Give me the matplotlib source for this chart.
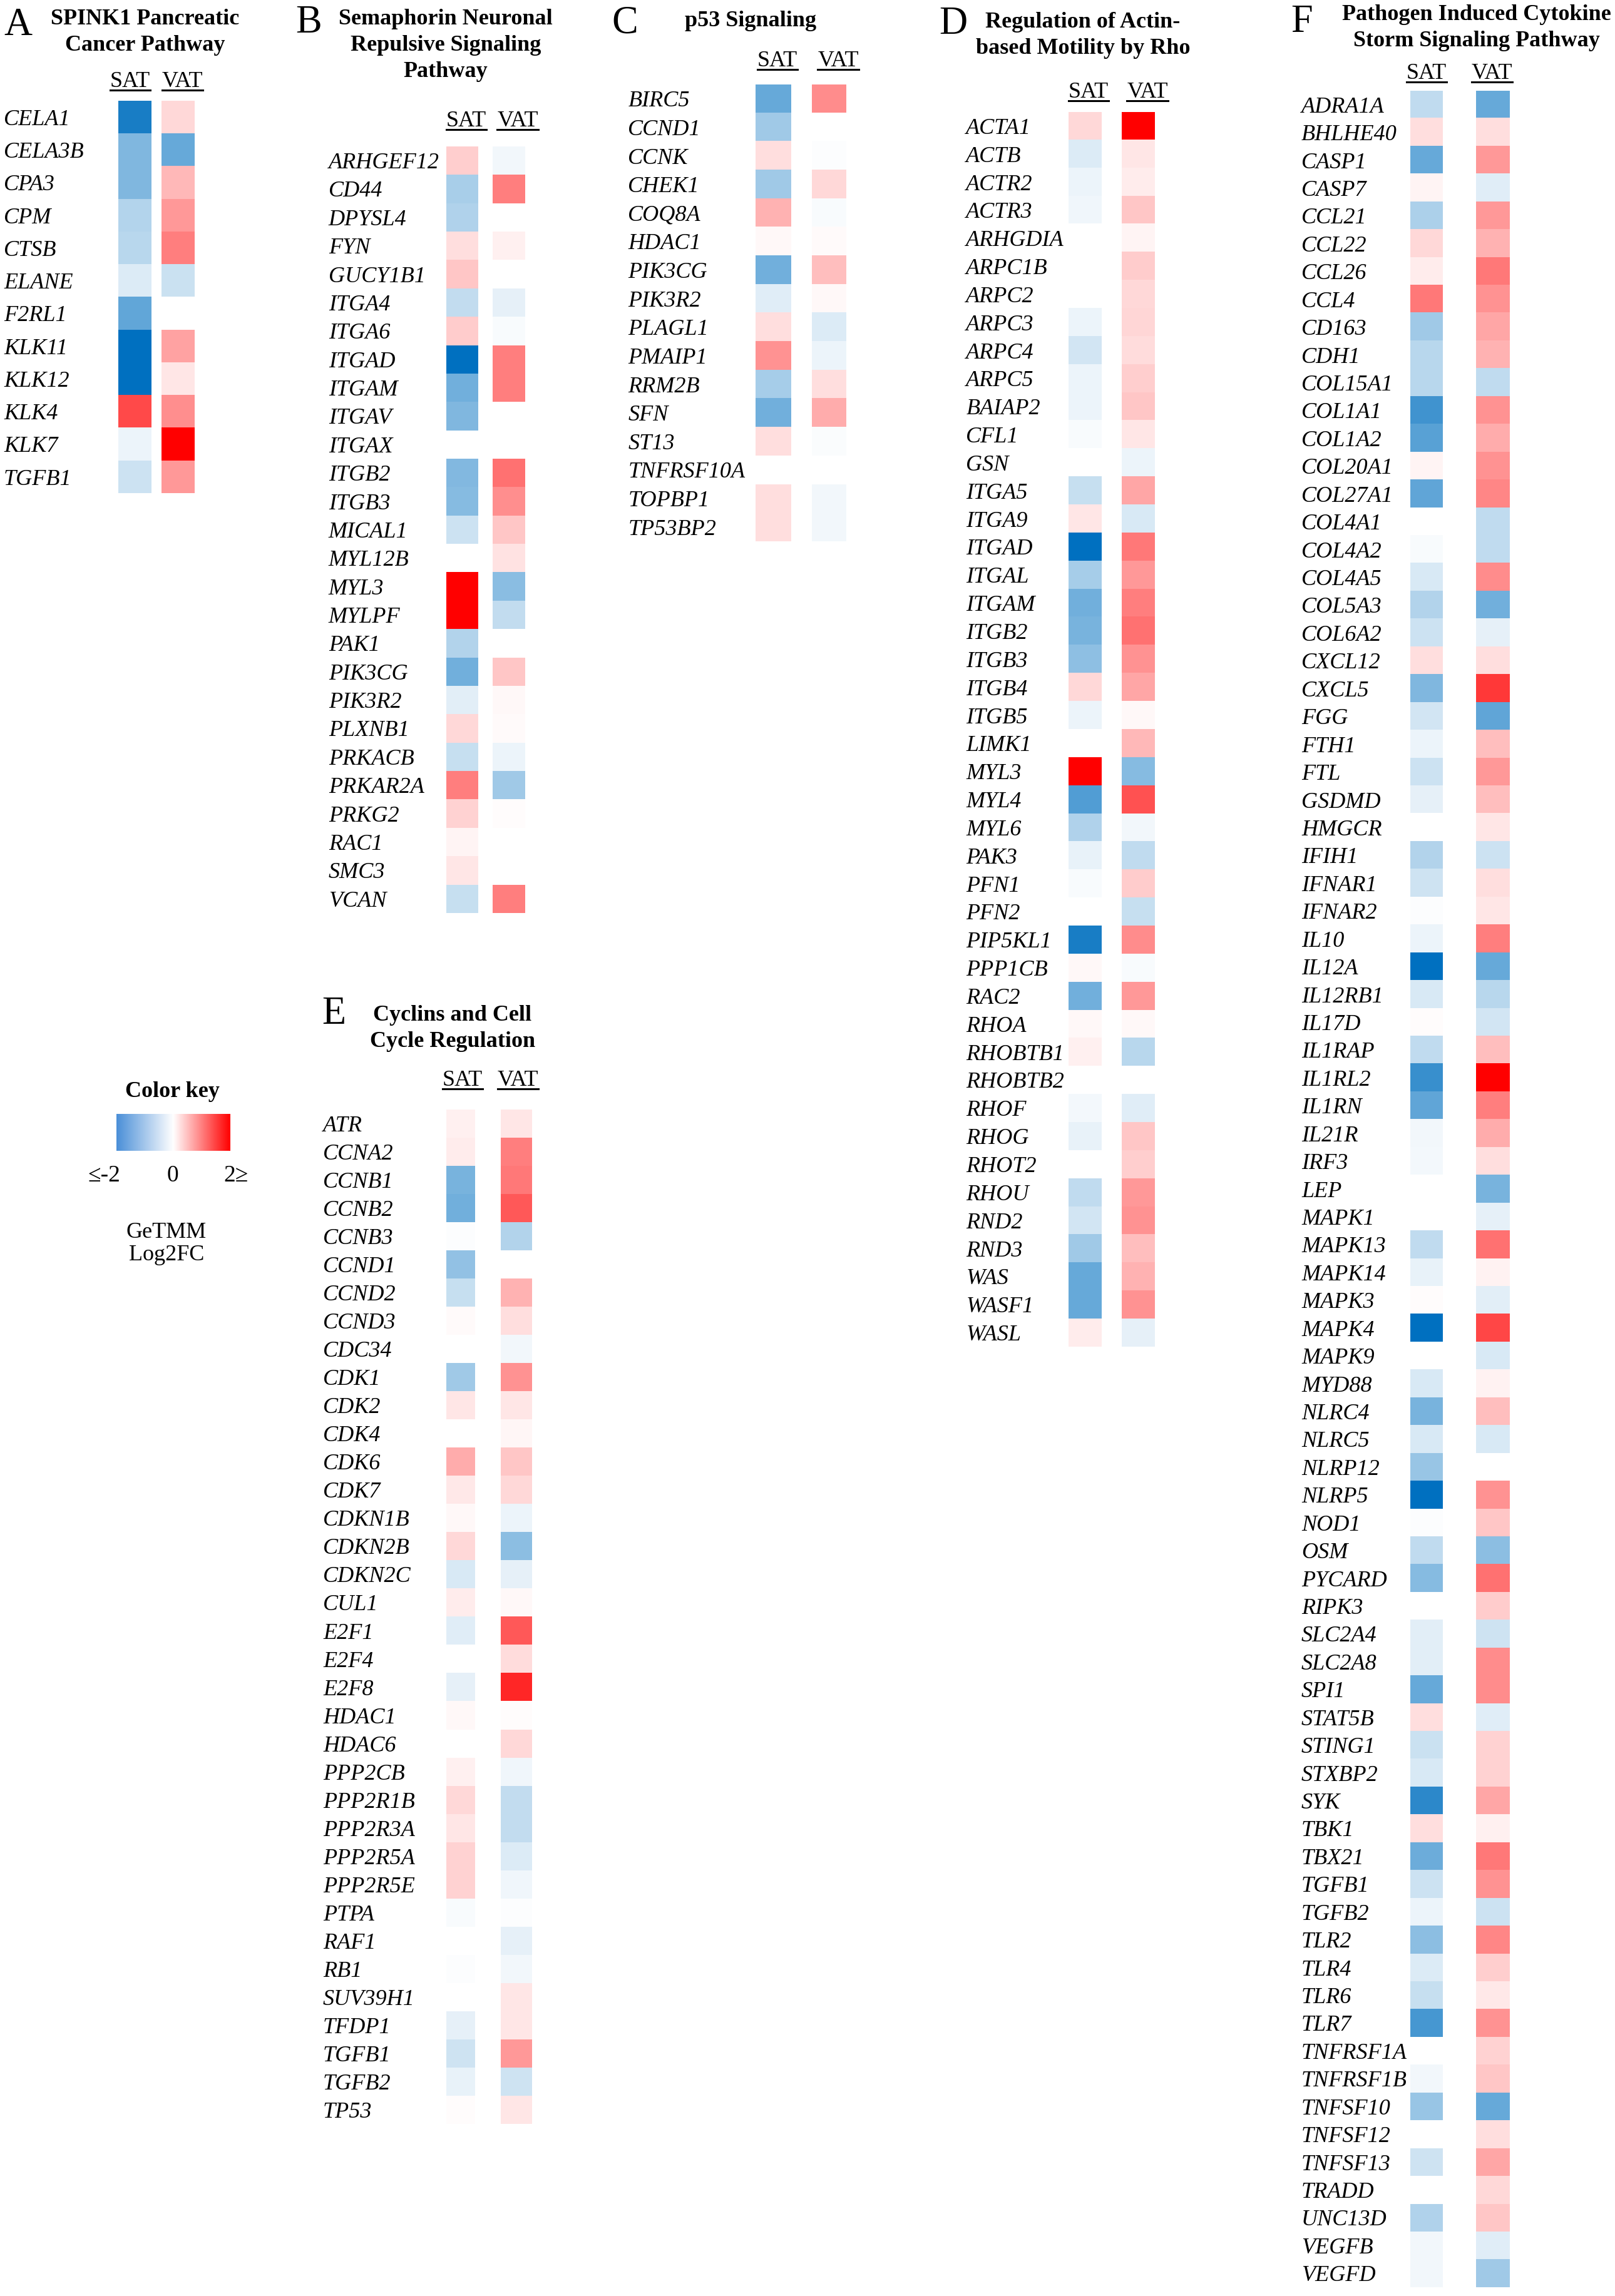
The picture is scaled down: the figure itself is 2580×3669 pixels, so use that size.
import numpy as np
import matplotlib
matplotlib.use('Agg')
import matplotlib.pyplot as plt
from matplotlib.colors import LinearSegmentedColormap
from matplotlib.lines import Line2D

nan = np.nan

# ---------------- data ----------------
a_title = "SPINK1 Pancreatic\nCancer Pathway"
a_genes = ["CELA1", "CELA3B", "CPA3", "CPM", "CTSB", "ELANE", "F2RL1", "KLK11", "KLK12", "KLK4", "KLK7", "TGFB1"]
a_sat = [-1.8, -1.0, -1.0, -0.58, -0.55, -0.28, -1.22, -2.0, -2.0, 1.42, -0.15, -0.4]
a_vat = [0.3, -1.2, 0.55, 0.8, 1.0, -0.42, nan, 0.73, 0.2, 0.88, 2.0, 0.8]

b_title = "Semaphorin Neuronal\nRepulsive Signaling\nPathway"
b_genes = ["ARHGEF12", "CD44", "DPYSL4", "FYN", "GUCY1B1", "ITGA4", "ITGA6", "ITGAD", "ITGAM", "ITGAV",
           "ITGAX", "ITGB2", "ITGB3", "MICAL1", "MYL12B", "MYL3", "MYLPF", "PAK1", "PIK3CG", "PIK3R2",
           "PLXNB1", "PRKACB", "PRKAR2A", "PRKG2", "RAC1", "SMC3", "VCAN"]
b_sat = [0.38, -0.68, -0.62, 0.25, 0.45, -0.48, 0.4, -2.0, -1.1, -1.0,
         nan, -0.98, -0.95, -0.4, nan, 2.0, 2.0, -0.6, -1.1, -0.22,
         0.3, -0.45, 1.0, 0.35, 0.08, 0.2, -0.45]
b_vat = [-0.1, 1.0, nan, 0.12, nan, -0.2, -0.05, 1.0, 1.0, nan,
         nan, 1.1, 0.88, 0.45, 0.22, -0.92, -0.48, nan, 0.45, 0.05,
         0.04, -0.15, -0.75, 0.03, nan, nan, 1.0]

c_title = "p53 Signaling"
c_genes = ["BIRC5", "CCND1", "CCNK", "CHEK1", "COQ8A", "HDAC1", "PIK3CG", "PIK3R2", "PLAGL1", "PMAIP1",
           "RRM2B", "SFN", "ST13", "TNFRSF10A", "TOPBP1", "TP53BP2"]
c_sat = [-1.2, -0.75, 0.25, -0.75, 0.6, 0.05, -1.1, -0.25, 0.25, 0.85, -0.7, -1.1, 0.25, nan, 0.25, 0.25]
c_vat = [0.9, nan, -0.03, 0.3, -0.05, 0.04, 0.5, 0.05, -0.28, -0.15, 0.25, 0.65, -0.04, nan, -0.1, -0.1]

d_title = "Regulation of Actin-\nbased Motility by Rho"
d_genes = ["ACTA1", "ACTB", "ACTR2", "ACTR3", "ARHGDIA", "ARPC1B", "ARPC2", "ARPC3", "ARPC4", "ARPC5",
           "BAIAP2", "CFL1", "GSN", "ITGA5", "ITGA9", "ITGAD", "ITGAL", "ITGAM", "ITGB2", "ITGB3",
           "ITGB4", "ITGB5", "LIMK1", "MYL3", "MYL4", "MYL6", "PAK3", "PFN1", "PFN2", "PIP5KL1",
           "PPP1CB", "RAC2", "RHOA", "RHOBTB1", "RHOBTB2", "RHOF", "RHOG", "RHOT2", "RHOU", "RND2",
           "RND3", "WAS", "WASF1", "WASL"]
d_sat = [0.3, -0.28, -0.15, -0.12, nan, nan, nan, -0.15, -0.35, -0.15,
         -0.15, -0.05, nan, -0.45, 0.2, -2.0, -0.7, -1.1, -1.05, -0.88,
         0.3, -0.15, nan, 2.0, -1.35, -0.62, -0.18, -0.05, nan, -1.8,
         0.05, -1.1, 0.05, 0.12, nan, -0.08, -0.18, nan, -0.5, -0.35,
         -0.75, -1.2, -1.2, 0.15]
d_vat = [2.0, 0.2, 0.15, 0.45, 0.08, 0.4, 0.3, 0.32, 0.28, 0.38,
         0.45, 0.2, -0.15, 0.7, -0.3, 1.05, 0.8, 1.0, 1.1, 0.85,
         0.7, 0.05, 0.55, -0.95, 1.35, -0.1, -0.5, 0.4, -0.45, 0.9,
         -0.05, 0.8, 0.05, -0.55, nan, -0.25, 0.45, 0.38, 0.8, 0.85,
         0.5, 0.6, 0.85, -0.2]

e_title = "Cyclins and Cell\nCycle Regulation"
e_genes = ["ATR", "CCNA2", "CCNB1", "CCNB2", "CCNB3", "CCND1", "CCND2", "CCND3", "CDC34", "CDK1",
           "CDK2", "CDK4", "CDK6", "CDK7", "CDKN1B", "CDKN2B", "CDKN2C", "CUL1", "E2F1", "E2F4",
           "E2F8", "HDAC1", "HDAC6", "PPP2CB", "PPP2R1B", "PPP2R3A", "PPP2R5A", "PPP2R5E", "PTPA", "RAF1",
           "RB1", "SUV39H1", "TFDP1", "TGFB1", "TGFB2", "TP53"]
e_sat = [0.12, 0.15, -1.05, -1.1, -0.03, -0.85, -0.45, 0.04, nan, -0.75,
         0.2, nan, 0.65, 0.18, 0.05, 0.3, -0.3, 0.15, -0.25, nan,
         -0.2, 0.06, nan, 0.12, 0.3, 0.2, 0.35, 0.35, -0.05, nan,
         -0.03, nan, -0.2, -0.38, -0.18, 0.02]
e_vat = [0.2, 1.0, 1.05, 1.3, -0.6, nan, 0.6, 0.25, -0.1, 0.85,
         0.2, 0.07, 0.45, 0.3, -0.15, -0.9, -0.2, 0.05, 1.3, 0.28,
         1.7, 0.03, 0.3, -0.12, -0.48, -0.48, -0.28, -0.12, -0.03, -0.2,
         -0.1, 0.2, 0.2, 0.8, -0.38, 0.2]

f_title = "Pathogen Induced Cytokine\nStorm Signaling Pathway"
f_genes = ["ADRA1A", "BHLHE40", "CASP1", "CASP7", "CCL21", "CCL22", "CCL26", "CCL4", "CD163", "CDH1",
           "COL15A1", "COL1A1", "COL1A2", "COL20A1", "COL27A1", "COL4A1", "COL4A2", "COL4A5", "COL5A3", "COL6A2",
           "CXCL12", "CXCL5", "FGG", "FTH1", "FTL", "GSDMD", "HMGCR", "IFIH1", "IFNAR1", "IFNAR2",
           "IL10", "IL12A", "IL12RB1", "IL17D", "IL1RAP", "IL1RL2", "IL1RN", "IL21R", "IRF3", "LEP",
           "MAPK1", "MAPK13", "MAPK14", "MAPK3", "MAPK4", "MAPK9", "MYD88", "NLRC4", "NLRC5", "NLRP12",
           "NLRP5", "NOD1", "OSM", "PYCARD", "RIPK3", "SLC2A4", "SLC2A8", "SPI1", "STAT5B", "STING1",
           "STXBP2", "SYK", "TBK1", "TBX21", "TGFB1", "TGFB2", "TLR2", "TLR4", "TLR6", "TLR7",
           "TNFRSF1A", "TNFRSF1B", "TNFSF10", "TNFSF12", "TNFSF13", "TRADD", "UNC13D", "VEGFB", "VEGFD"]
f_sat = [-0.5, 0.25, -1.2, 0.08, -0.65, 0.3, 0.15, 1.05, -0.75, -0.55,
         -0.55, -1.5, -1.3, 0.08, -1.25, nan, -0.05, -0.3, -0.6, -0.4,
         0.25, -1.0, -0.35, -0.15, -0.4, -0.2, nan, -0.6, -0.38, -0.03,
         -0.15, -2.0, -0.3, 0.02, -0.5, -1.55, -1.25, -0.1, -0.08, nan,
         nan, -0.5, -0.18, 0.03, -2.0, nan, -0.3, -1.05, -0.3, -0.8,
         -2.0, -0.03, -0.5, -0.95, nan, -0.22, -0.22, -1.2, 0.25, -0.42,
         -0.3, -1.65, 0.25, -1.15, -0.4, -0.15, -0.9, -0.28, -0.45, -1.45,
         nan, -0.1, -0.8, nan, -0.38, nan, -0.62, -0.1, -0.1]
f_vat = [-1.2, 0.25, 0.8, -0.25, 0.8, 0.6, 1.05, 0.85, 0.7, 0.6,
         -0.5, 0.85, 0.65, 0.85, 0.95, -0.5, -0.5, 0.9, -1.1, -0.2,
         0.25, 1.55, -1.25, 0.5, 0.8, 0.5, 0.2, -0.4, 0.25, 0.2,
         1.0, -1.2, -0.55, -0.35, 0.5, 2.0, 1.0, 0.65, 0.25, -1.05,
         -0.2, 1.1, 0.1, -0.22, 1.45, -0.3, 0.1, 0.5, -0.3, nan,
         0.85, 0.45, -0.9, 1.1, 0.4, -0.38, 0.9, 0.9, -0.25, 0.35,
         0.35, 0.7, 0.12, 1.05, 0.85, -0.4, 0.95, 0.38, 0.18, 0.85,
         0.35, 0.45, -1.2, 0.25, 0.7, 0.3, 0.45, -0.25, -0.75]

col_names = ["SAT", "VAT"]
key_title = "Color key"
key_ticks = ["\u2264-2", "0", "2\u2265"]
key_caption = "GeTMM\nLog2FC"

# ---------------- style / layout ----------------
W, H, DPI = 2580, 3669, 100
S = 2580 / 1103.0          # layout below is given in reference-preview units
FS = 26
plt.rcParams['font.family'] = ['Liberation Serif', 'DejaVu Serif']

cmap = LinearSegmentedColormap.from_list('sat_vat', ['#0070C0', '#FFFFFF', '#FF0000'])
key_cmap = LinearSegmentedColormap.from_list('key', ['#4A8FD8', '#FFFFFF', '#FF0000'])

fig = plt.figure(figsize=(W / DPI, H / DPI), dpi=DPI)
fig.patch.set_facecolor('white')


def fx(x):
    return x * S / W


def fy(y):
    return 1 - y * S / H


col_texts = []


def panel(letter, letter_xy, title, title_xy, genes, sat, vat, lbl_y, lbl_x, sat_x, vat_x, top, bot, gene_x):
    n = len(genes)
    for (x0, x1), vals, name, lx in [(sat_x, sat, col_names[0], lbl_x[0]),
                                      (vat_x, vat, col_names[1], lbl_x[1])]:
        ax = fig.add_axes([fx(x0), fy(bot), fx(x1) - fx(x0), (bot - top) * S / H])
        arr = np.ma.masked_invalid(np.array(vals, dtype=float).reshape(-1, 1))
        ax.imshow(arr, cmap=cmap, vmin=-2, vmax=2, aspect='auto', interpolation='nearest')
        ax.set_xticks([])
        for sp in ax.spines.values():
            sp.set_visible(False)
        if name == col_names[0]:
            ax.set_yticks(range(n))
            ax.set_yticklabels(genes, ha='left', fontstyle='italic', fontsize=FS)
            ax.tick_params(axis='y', length=0, pad=(x0 - gene_x) * S * 72.0 / DPI)
        else:
            ax.set_yticks([])
        t = fig.text(fx(lx), fy(lbl_y), name, ha='center', va='center', fontsize=FS)
        col_texts.append(t)
    fig.text(fx(letter_xy[0]), fy(letter_xy[1]), letter, ha='center', va='center', fontsize=45)
    fig.text(fx(title_xy[0]), fy(title_xy[1]), title, ha='center', va='center',
             fontweight='bold', fontsize=FS, linespacing=1.36)


panel("A", (12.5, 17.5), a_title, (99, 22), a_genes, a_sat, a_vat,
      56, (89, 124.7), (80.8, 103.3), (110.4, 132.9), 69, 337, 2.6)
panel("B", (211, 16), b_title, (304.3, 31), b_genes, b_sat, b_vat,
      82.8, (318.5, 353.6), (305, 326.5), (336.5, 358.5), 100, 623.7, 224.4)
panel("C", (426.8, 16), c_title, (512.7, 14.5), c_genes, c_sat, c_vat,
      41.7, (531, 572.4), (516, 540), (554.5, 577.6), 57.7, 369.8, 429)
panel("D", (651, 16.5), d_title, (739.6, 24), d_genes, d_sat, d_vat,
      63, (743.5, 783.6), (729.8, 752.4), (766, 788.5), 76.5, 920, 659.8)
panel("E", (228, 693), e_title, (309, 702.5), e_genes, e_sat, e_vat,
      738, (316, 353.7), (305, 324.5), (342, 363), 758, 1451, 220.6)
panel("F", (889, 15.3), f_title, (1008.5, 19), f_genes, f_sat, f_vat,
      50.4, (974.3, 1019), (963, 985), (1008, 1031), 62, 1562.6, 888.8)

# ---------------- colour key ----------------
fig.text(fx(117.6), fy(746), key_title, ha='center', va='center', fontweight='bold', fontsize=FS)
kax = fig.add_axes([fx(79.5), fy(786), fx(157) - fx(79.5), (786 - 761) * S / H])
kax.imshow(np.linspace(-2, 2, 256).reshape(1, -1), cmap=key_cmap, vmin=-2, vmax=2,
           aspect='auto', interpolation='bilinear')
kax.set_axis_off()
for txt, x in zip(key_ticks, [71, 118, 161]):
    fig.text(fx(x), fy(803), txt, ha='center', va='center', fontsize=27)
fig.text(fx(113.6), fy(849.5), key_caption, ha='center', va='center', fontsize=FS, linespacing=1.12)

# ---------------- underline column headers ----------------
fig.canvas.draw()
renderer = fig.canvas.get_renderer()
for t in col_texts:
    bb = t.get_window_extent(renderer)
    y = (bb.y0 + 3) / H
    fig.add_artist(Line2D([bb.x0 / W, bb.x1 / W], [y, y], transform=fig.transFigure,
                          color='black', linewidth=2.2))

fig.savefig('out.png', dpi=DPI, facecolor='white')
